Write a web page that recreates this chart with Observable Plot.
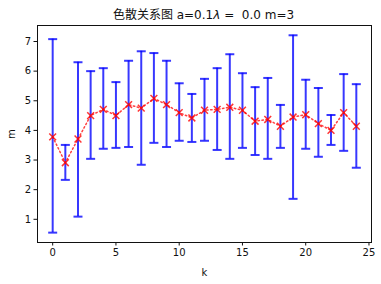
<!DOCTYPE html>
<html><head><meta charset="utf-8">
<script src="https://cdn.jsdelivr.net/npm/d3@7"></script>
<script src="https://cdn.jsdelivr.net/npm/@observablehq/plot@0.6"></script>
<style>
body{margin:0;background:#fff;width:381px;height:284px;overflow:hidden;font-family:"DejaVu Sans","Noto Sans CJK SC",sans-serif;}
#title{height:24px;line-height:16px;padding-top:7px;box-sizing:border-box;font-size:12px;color:#111;text-align:center;padding-left:26px;white-space:pre;}
</style></head><body>
<div id="title">色散关系图 a=0.1<i>λ</i> =  0.0 m=3</div>
<div id="chart"></div>
<script>
const k = [0,1,2,3,4,5,6,7,8,9,10,11,12,13,14,15,16,17,18,19,20,21,22,23,24];
const mean = [3.78,2.91,3.71,4.50,4.71,4.50,4.87,4.75,5.08,4.87,4.60,4.42,4.68,4.71,4.78,4.68,4.31,4.37,4.14,4.45,4.53,4.23,4.00,4.60,4.14];
const upper = [7.08,3.51,6.30,6.00,6.10,5.63,6.35,6.67,6.61,6.35,5.59,5.23,5.74,6.10,6.57,5.93,5.46,5.77,4.86,7.21,5.71,5.43,4.52,5.90,5.56];
const lower = [0.55,2.33,1.09,3.04,3.38,3.41,3.44,2.84,3.58,3.44,3.65,3.61,3.65,3.34,3.04,3.41,3.17,3.04,3.41,1.69,3.38,3.11,3.51,3.31,2.74];
const xTicks = [0,5,10,15,20,25];
const yTicks = [1,2,3,4,5,6,7];

const data = k.map((d,i)=>({k:d, m:mean[i], lo:lower[i], hi:upper[i]}));
const cap = {draw(ctx){ctx.moveTo(-4.5,0);ctx.lineTo(4.5,0);}};
const blue = "#0000ff";

const chart = Plot.plot({
  width:381, height:260,
  marginTop:1, marginBottom:42, marginLeft:37, marginRight:10,
  style:{fontFamily:"DejaVu Sans, sans-serif", fontSize:"10px", color:"#111", background:"#fff"},
  x:{domain:[-1.2,25.2], ticks:xTicks, tickSize:3.5, tickPadding:3, label:"k", labelAnchor:"center", labelArrow:"none", labelOffset:33},
  y:{domain:[0.217,7.54], ticks:yTicks, tickSize:3.5, tickPadding:3, label:"m", labelAnchor:"center", labelArrow:"none", labelOffset:30},
  marks:[
    Plot.ruleX(data,{x:"k", y1:"lo", y2:"hi", stroke:blue, strokeOpacity:0.78, strokeWidth:2}),
    Plot.dot(data,{x:"k", y:"hi", symbol:cap, r:3, stroke:blue, strokeOpacity:0.78, strokeWidth:2, fill:"none"}),
    Plot.dot(data,{x:"k", y:"lo", symbol:cap, r:3, stroke:blue, strokeOpacity:0.78, strokeWidth:2, fill:"none"}),
    Plot.line(data,{x:"k", y:"m", stroke:"#ff0000", strokeOpacity:0.75, strokeWidth:1.5, strokeDasharray:"1.5,2.5"}),
    Plot.dot(data,{x:"k", y:"m", symbol:"times", r:3.2, stroke:"#ff0000", strokeOpacity:0.8, strokeWidth:1.5}),
    Plot.frame({stroke:"#111", strokeWidth:1})
  ]
});
document.getElementById("chart").appendChild(chart);
</script>
</body></html>
